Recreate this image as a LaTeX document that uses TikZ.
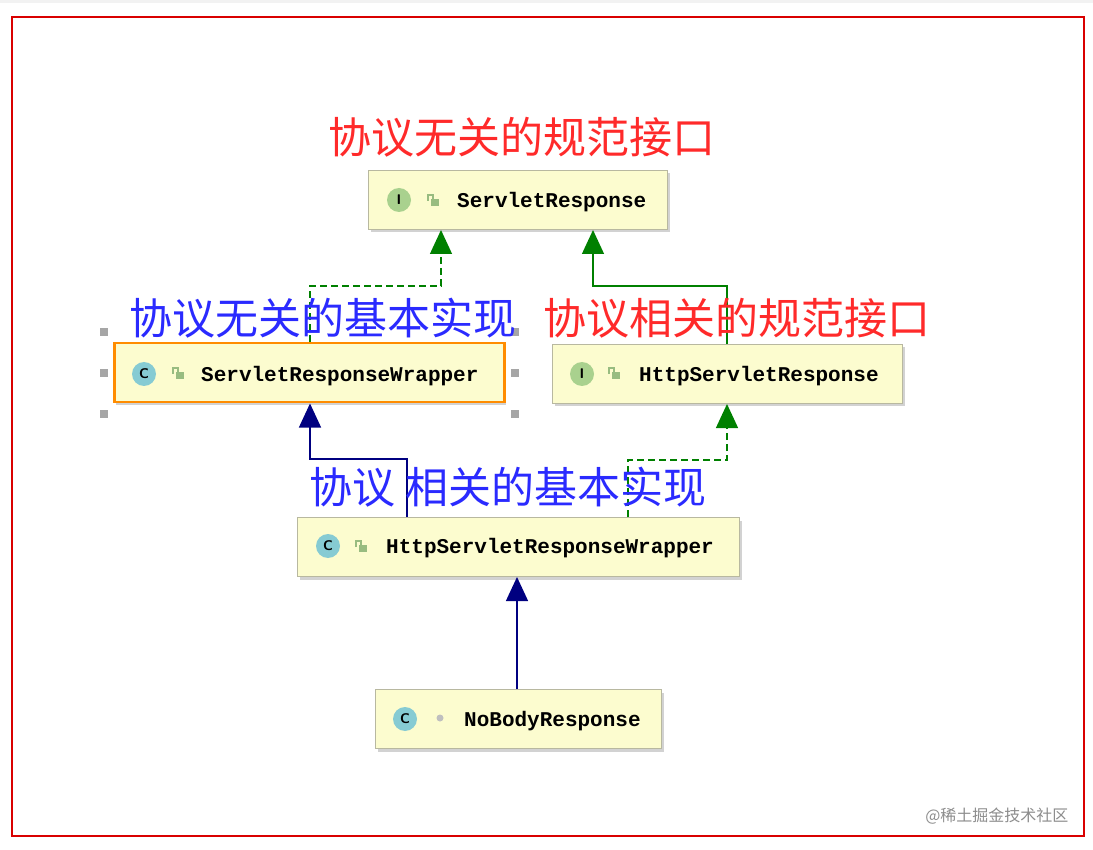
\documentclass[tikz,border=0pt]{standalone}
\usepackage{fontspec}
\newfontfamily\cjk{Noto Sans CJK SC}
\newfontfamily\mono{Liberation Mono}
\usetikzlibrary{arrows.meta,shadows}
\definecolor{boxfill}{HTML}{FCFCCF}
\definecolor{boxline}{HTML}{B8B8A0}
\definecolor{igreen}{HTML}{A9D18E}
\definecolor{cteal}{HTML}{86CBD3}
\definecolor{dgreen}{HTML}{008000}
\definecolor{navy}{HTML}{000080}
\definecolor{lblblue}{HTML}{2A2AFF}
\definecolor{lblred}{HTML}{FF2A2A}
\tikzset{
  cls/.style={draw=boxline, fill=boxfill, line width=1pt, minimum height=59, anchor=north west, inner sep=0,
    drop shadow={shadow xshift=2pt, shadow yshift=-3pt, fill=black!35}},
  nm/.style={font=\mono\bfseries\fontsize{21}{21}\selectfont, anchor=west, inner sep=0},
  ico/.style={circle, minimum size=24, inner sep=0, font=\sffamily\bfseries\fontsize{14}{14}\selectfont},
  lbl/.style={font=\cjk\fontsize{43}{43}\selectfont, inner sep=0},
  tri/.style={-{Triangle[length=24pt,width=22pt]}},
  dsh/.style={dash pattern=on 7pt off 4pt},
  handle/.style={fill=black!35, minimum size=8, inner sep=0},
}
\begin{document}
\begin{tikzpicture}[x=1pt,y=-1pt]
\useasboundingbox (0,0) rectangle (1093,850);
\fill[black!5] (0,0) rectangle (1093,3);
\draw[red!85!black, line width=2pt] (12,17) rectangle (1084,836);
% boxes
\node[cls, minimum width=299] (sr) at (368,170) {};
\node[cls, minimum width=390, draw=orange!90!yellow, line width=2.5pt] (srw) at (113,342) {};
\node[cls, minimum width=350] (hsr) at (552,344) {};
\node[cls, minimum width=442] (hsrw) at (297,517) {};
\node[cls, minimum width=286] (nbr) at (375,689) {};
% handles
\foreach \x/\y [count=\i] in {104/332,104/373,104/414,515/332,515/373,515/414}
  \node[handle] (h\i) at (\x,\y) {};
% icons and names
\node[ico, fill=igreen] (sri) at (399,200) {I};
\node[nm] (srt) at (457,202) {ServletResponse};
\node[ico, fill=cteal] (srwi) at (144,374) {C};
\node[nm] (srwt) at (201,376) {ServletResponseWrapper};
\node[ico, fill=igreen] (hsri) at (582,374) {I};
\node[nm] (hsrt) at (639,376) {HttpServletResponse};
\node[ico, fill=cteal] (hsrwi) at (328,546) {C};
\node[nm] (hsrwt) at (386,548) {HttpServletResponseWrapper};
\node[ico, fill=cteal] (nbri) at (405,719) {C};
\node[circle, fill=black!25, minimum size=7, inner sep=0] (nbrd) at (440,718) {};
\node[nm] (nbrt) at (464,721) {NoBodyResponse};
% lock icons
\foreach \x/\y in {433/200,178/373,614/373,361/546}{
  \fill[igreen!90!black] (\x-2,\y-1) rectangle (\x+6,\y+6);
  \draw[igreen!90!black, line width=1.5pt] (\x-5,\y+1) -- (\x-5,\y-5) -- (\x,\y-5) -- (\x,\y-1);
}
% connectors
\draw[dgreen, dsh, line width=1.3pt, tri] ({310,0}|-srw.north) -- (310,286) -- (441,286) -- ({441,0}|-sr.south);
\draw[dgreen, line width=1.3pt, tri] ({727,0}|-hsr.north) -- (727,286) -- (593,286) -- ({593,0}|-sr.south);
\draw[navy, line width=1.3pt, tri] ({407,0}|-hsrw.north) -- (407,459) -- (310,459) -- ({310,0}|-srw.south);
\draw[dgreen, dsh, line width=1.3pt, tri] ({628,0}|-hsrw.north) -- (628,460) -- (727,460) -- ({727,0}|-hsr.south);
\draw[navy, line width=1.3pt, tri] ({517,0}|-nbr.north) -- ({517,0}|-hsrw.south);
% labels
\node[lbl, text=lblred] (l1) at (522,137) {协议无关的规范接口};
\node[lbl, text=lblblue] (l2) at (323,318) {协议无关的基本实现};
\node[lbl, text=lblred] (l3) at (737,318) {协议相关的规范接口};
\node[lbl, text=lblblue] (l4) at (508,487) {协议\ 相关的基本实现};
\node[font=\cjk\fontsize{16}{16}\selectfont, text=black!45, anchor=east] (wm) at (1072,816) {@稀土掘金技术社区};
\end{tikzpicture}
\end{document}
